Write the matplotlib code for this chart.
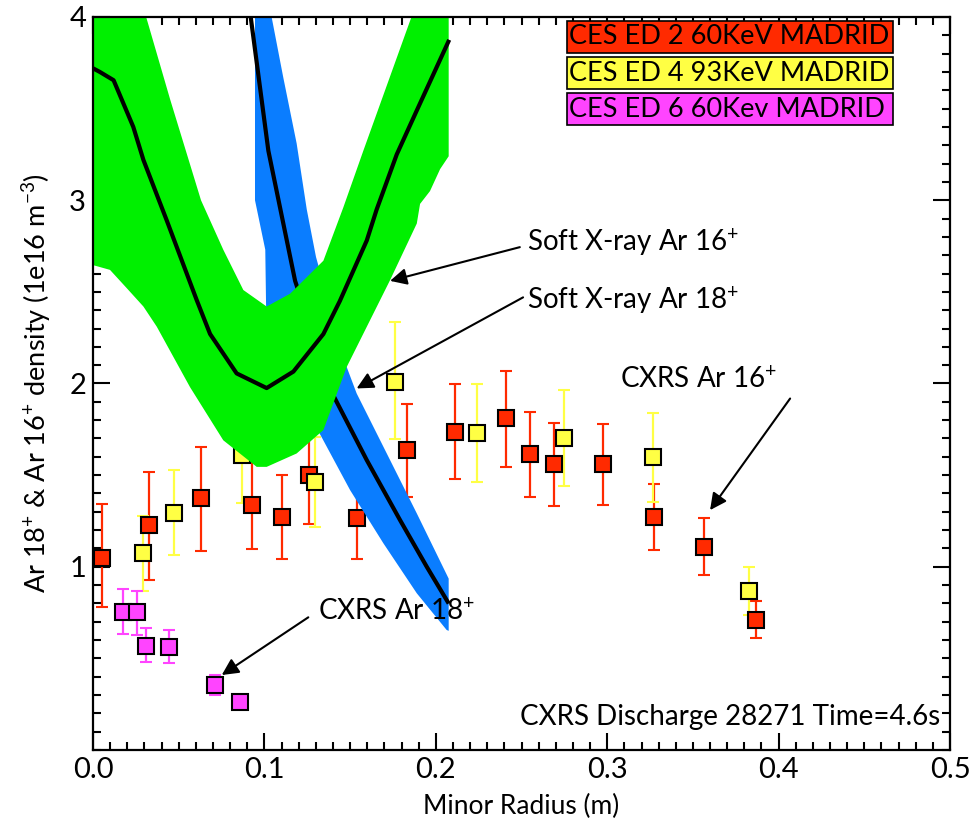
import numpy as np
import matplotlib.pyplot as plt
from matplotlib.patches import Rectangle
from matplotlib.ticker import MultipleLocator

plt.rcParams['font.family'] = ['Lato', 'DejaVu Sans']
plt.rcParams['mathtext.fontset'] = 'custom'
plt.rcParams['mathtext.rm'] = 'Lato'
plt.rcParams['mathtext.it'] = 'Lato'

# CXRS profiles (minor radius in m, density in 1e16 m^-3)
r_ed2 = [0.005, 0.0327, 0.0628, 0.0925, 0.110, 0.1258, 0.1538, 0.183, 0.2112,
         0.2408, 0.2552, 0.2691, 0.2977, 0.3273, 0.3567, 0.3868]
n_ed2 = [1.05, 1.227, 1.375, 1.337, 1.273, 1.50, 1.266, 1.637, 1.737,
         1.813, 1.615, 1.559, 1.559, 1.273, 1.109, 0.709]
up_ed2 = [0.29, 0.29, 0.278, 0.24, 0.227, 0.27, 0.224, 0.251, 0.26,
          0.257, 0.231, 0.223, 0.221, 0.178, 0.158, 0.106]
lo_ed2 = [0.27, 0.297, 0.289, 0.24, 0.231, 0.267, 0.226, 0.255, 0.259,
          0.267, 0.237, 0.226, 0.224, 0.184, 0.156, 0.10]

r_ed4 = [0.0294, 0.0473, 0.0867, 0.1297, 0.1762, 0.2239, 0.2748, 0.3265, 0.3825]
n_ed4 = [1.076, 1.295, 1.609, 1.464, 2.008, 1.728, 1.705, 1.60, 0.867]
up_ed4 = [0.202, 0.233, 0.26, 0.242, 0.327, 0.269, 0.262, 0.24, 0.13]
lo_ed4 = [0.207, 0.231, 0.263, 0.246, 0.313, 0.268, 0.263, 0.245, 0.13]

r_ed6 = [0.0177, 0.0259, 0.0307, 0.0443, 0.0712, 0.0858]
n_ed6 = [0.755, 0.751, 0.569, 0.564, 0.355, 0.26]
up_ed6 = [0.122, 0.118, 0.095, 0.091, 0.054, 0.02]
lo_ed6 = [0.122, 0.124, 0.091, 0.091, 0.055, 0.02]

# soft X-ray Ar16+ inversion: profile and error envelope
r_sx16 = [0.0, 0.004, 0.012, 0.0235, 0.0294, 0.043, 0.0605, 0.0683, 0.0838,
          0.1013, 0.1169, 0.1344, 0.144, 0.1597, 0.1655, 0.1772, 0.1889, 0.2073]
n_sx16 = [3.72, 3.70, 3.655, 3.40, 3.22, 2.89, 2.455, 2.27, 2.055,
          1.975, 2.065, 2.27, 2.45, 2.78, 2.95, 3.25, 3.49, 3.865]
r_sx16_hi = [0.0, 0.031, 0.045, 0.063, 0.076, 0.0877, 0.1013, 0.115, 0.1344,
             0.146, 0.1577, 0.185, 0.2075]
n_sx16_hi = [4.5, 4.0, 3.55, 3.0, 2.73, 2.51, 2.42, 2.49, 2.67,
             2.96, 3.27, 3.98, 4.5]
r_sx16_lo = [0.0, 0.0099, 0.0197, 0.0294, 0.0372, 0.0566, 0.076, 0.0955, 0.1013,
             0.1188, 0.1344, 0.148, 0.1733, 0.1889, 0.1908, 0.1966, 0.2025, 0.2075]
n_sx16_lo = [2.646, 2.62, 2.52, 2.42, 2.31, 1.98, 1.69, 1.545, 1.545,
             1.618, 1.746, 2.09, 2.564, 2.873, 2.98, 3.05, 3.17, 3.24]

# soft X-ray Ar18+ inversion
r_sx18 = [0.089, 0.092, 0.1023, 0.1179, 0.1402, 0.1597, 0.1791, 0.1947, 0.2069]
n_sx18 = [4.2, 4.0, 3.27, 2.56, 1.935, 1.582, 1.255, 1.0, 0.809]
r_sx18_hi = [0.103, 0.1042, 0.111, 0.1188, 0.1247, 0.1301, 0.148, 0.1538,
             0.1694, 0.1889, 0.2075]
n_sx18_hi = [4.2, 4.0, 3.67, 3.31, 2.95, 2.69, 2.09, 1.946,
             1.655, 1.291, 0.935]
r_sx18_lo = [0.0945, 0.0945, 0.1005, 0.101, 0.1286, 0.15, 0.1694, 0.1889, 0.2063, 0.2075]
n_sx18_lo = [4.2, 3.0, 2.73, 2.40, 1.79, 1.418, 1.128, 0.855, 0.655, 0.65]

c_red = '#ff2a00'
c_yel = '#ffff44'
c_mag = '#ff44ff'
c_green = '#00f000'
c_blue = '#0a7dff'

fig = plt.figure(figsize=(9.73, 8.21), dpi=100)
ax = fig.add_axes([0.0956, 0.0865, 0.8808, 0.8928])

for r, n, lo, up, c in [(r_ed2, n_ed2, lo_ed2, up_ed2, c_red),
                        (r_ed4, n_ed4, lo_ed4, up_ed4, c_yel),
                        (r_ed6, n_ed6, lo_ed6, up_ed6, c_mag)]:
    ax.errorbar(r, n, yerr=[lo, up], fmt='s', color=c, ecolor=c,
                markersize=11.5, markeredgecolor='black', markeredgewidth=1.5,
                elinewidth=1.6, capsize=4, capthick=1.8, zorder=3)

# bands drawn over the points, blue first
ax.fill(r_sx18_hi + r_sx18_lo[::-1], n_sx18_hi + n_sx18_lo[::-1],
        color=c_blue, lw=0, zorder=4)
ax.plot(r_sx18, n_sx18, color='black', lw=3, zorder=5)
ax.fill(r_sx16_hi + r_sx16_lo[::-1], n_sx16_hi + n_sx16_lo[::-1],
        color=c_green, lw=0, zorder=6)
ax.plot(r_sx16, n_sx16, color='black', lw=3, zorder=7)

ax.set_xlim(0, 0.5)
ax.set_ylim(0, 4)
ax.xaxis.set_minor_locator(MultipleLocator(0.01))
ax.yaxis.set_minor_locator(MultipleLocator(0.1))
ax.set_xticks([0, 0.1, 0.2, 0.3, 0.4, 0.5])
ax.set_xticklabels(['0.0', '0.1', '0.2', '0.3', '0.4', '0.5'])
ax.set_yticks([1, 2, 3, 4])
ax.set_yticklabels(['1', '2', '3', '4'])
ax.tick_params(which='both', direction='in', top=True, right=True,
               width=1.5, labelsize=21)
ax.tick_params(which='major', length=12, pad=5)
ax.tick_params(which='minor', length=6)
for s in ax.spines.values():
    s.set_linewidth(1.6)
    s.set_zorder(10)

ax.set_xlabel('Minor Radius (m)', fontsize=19, labelpad=8)
ax.set_ylabel('Ar 18$^{+}$ & Ar 16$^{+}$ density (1e16 m$^{-3}$)',
              fontsize=19.5, labelpad=12)

arrow = dict(arrowstyle='-|>', color='black', lw=1.5, mutation_scale=25,
             shrinkA=0, shrinkB=0)
# (tip, tail) of each pointer
pointers = [((0.1733, 2.56), (0.249, 2.744)),
            ((0.1538, 1.973), (0.2509, 2.47)),
            ((0.360, 1.309), (0.4067, 1.918)),
            ((0.0751, 0.409), (0.1256, 0.724))]
for tip, tail in pointers:
    ax.annotate('', xy=tip, xytext=tail, arrowprops=arrow, zorder=9)

notes = [(0.2532, 2.77, 'Soft X-ray Ar 16$^{+}$'),
         (0.2532, 2.455, 'Soft X-ray Ar 18$^{+}$'),
         (0.3075, 2.02, 'CXRS Ar 16$^{+}$'),
         (0.1313, 0.753, 'CXRS Ar 18$^{+}$')]
for x, y, s in notes:
    ax.text(x, y, s, fontsize=20, va='center', zorder=12)

ax.text(0.494, 0.18, 'CXRS Discharge 28271 Time=4.6s', fontsize=20,
        ha='right', va='center', zorder=12)

# coloured labels in the upper right corner
labels = ['CES ED 2 60KeV MADRID', 'CES ED 4 93KeV MADRID', 'CES ED 6 60Kev MADRID']
for i, (lab, c) in enumerate(zip(labels, [c_red, c_yel, c_mag])):
    y0 = 0.951 - i * 0.0495
    ax.add_patch(Rectangle((0.553, y0), 0.3805, 0.0437, transform=ax.transAxes,
                           facecolor=c, edgecolor='black', lw=1.2, zorder=11))
    ax.text(0.5555, y0 + 0.0218, lab, transform=ax.transAxes, fontsize=19.5,
            va='center', ha='left', zorder=12)

fig.savefig('out.png', dpi=100)
